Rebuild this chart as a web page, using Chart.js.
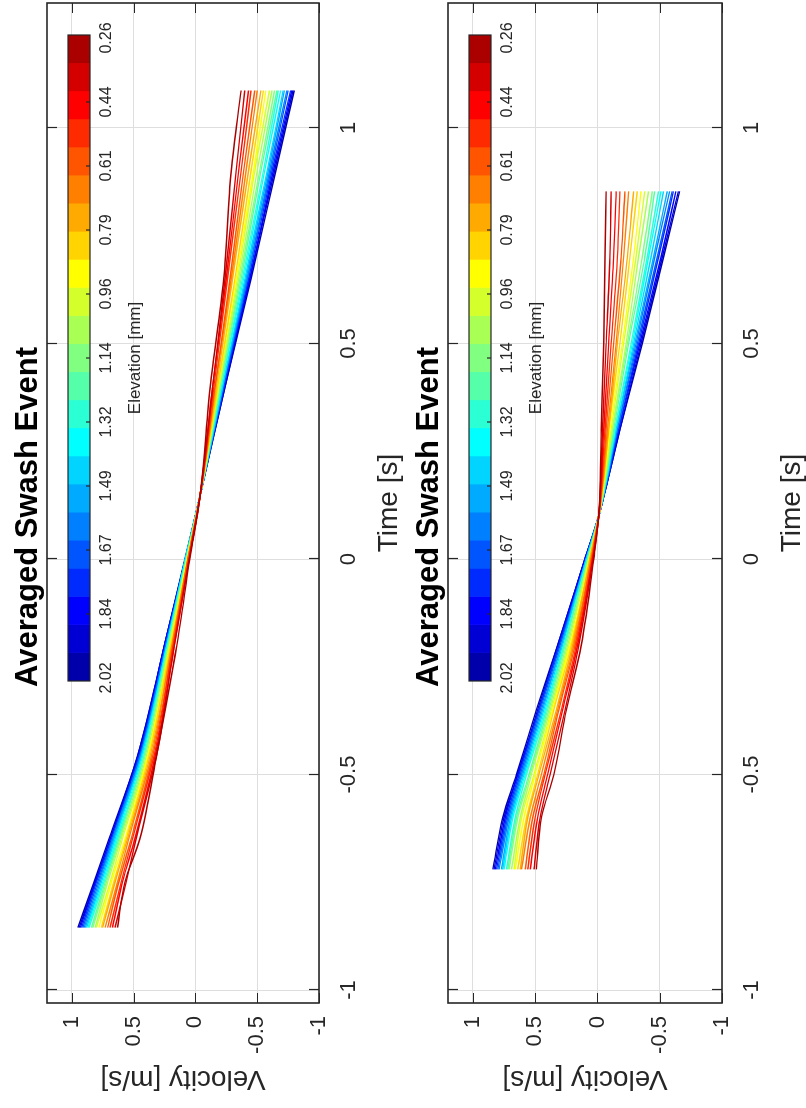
<!DOCTYPE html>
<html>
<head>
<meta charset="utf-8">
<script src="https://cdn.jsdelivr.net/npm/chart.js@4.4.1/dist/chart.umd.min.js"></script>
<style>
  html, body { margin: 0; padding: 0; background: #fff; overflow: hidden; }
  /* the figure is laid out upright, then turned a quarter turn like the source image */
  #fig { position: absolute; left: 0; top: 0; width: 1108px; height: 806px; background: #fff;
         transform-origin: 0 0; transform: translateY(1108px) rotate(-90deg); }
  .panel { position: absolute; left: 0; width: 1108px; height: 403px; }
</style>
</head>
<body>
<div id="fig">
  <div class="panel" style="top:0"><canvas id="top" width="1108" height="403"></canvas></div>
  <div class="panel" style="top:403px"><canvas id="bottom" width="1108" height="403"></canvas></div>
</div>
<script>
const titleText = "Averaged Swash Event"
const timeLabel = "Time [s]"
const velocityLabel = "Velocity [m/s]"
const colorbarLabel = "Elevation [mm]"
const colorbarTicks = ["2.02", "1.84", "1.67", "1.49", "1.32", "1.14", "0.96", "0.79", "0.61", "0.44", "0.26"]

// jet(23), low elevation (dark red) first
const lineColors = ["#AA0000", "#D40000", "#FF0000", "#FF2B00", "#FF5500", "#FF8000", "#FFAA00", "#FFD400",
  "#FFFF00", "#D4FF2B", "#AAFF55", "#80FF80", "#55FFAA", "#2BFFD4", "#00FFFF", "#00D4FF", "#00AAFF",
  "#0080FF", "#0055FF", "#002BFF", "#0000FF", "#0000D4", "#0000AA"]

// upper panel: time [s] and one velocity row per elevation level (0.26 mm ... 2.02 mm)
const time1 = [-0.855, -0.75, -0.65, -0.45, -0.2, 0, 0.15, 0.4, 0.65, 0.9, 1.087]
const velocity1 = [
  [0.63, 0.57, 0.45, 0.31, 0.15, 0.045, -0.04, -0.12, -0.23, -0.29, -0.37],
  [0.65, 0.56, 0.48, 0.31, 0.17, 0.05, -0.04, -0.14, -0.24, -0.33, -0.40],
  [0.67, 0.59, 0.49, 0.32, 0.17, 0.05, -0.04, -0.14, -0.25, -0.35, -0.43],
  [0.69, 0.60, 0.51, 0.33, 0.18, 0.05, -0.04, -0.15, -0.26, -0.37, -0.45],
  [0.71, 0.62, 0.52, 0.34, 0.18, 0.06, -0.04, -0.16, -0.28, -0.39, -0.48],
  [0.73, 0.63, 0.54, 0.35, 0.19, 0.06, -0.04, -0.16, -0.29, -0.41, -0.50],
  [0.75, 0.65, 0.55, 0.36, 0.19, 0.06, -0.04, -0.17, -0.30, -0.43, -0.53],
  [0.76, 0.66, 0.56, 0.37, 0.20, 0.06, -0.04, -0.18, -0.32, -0.45, -0.55],
  [0.78, 0.68, 0.57, 0.38, 0.20, 0.06, -0.04, -0.18, -0.33, -0.47, -0.57],
  [0.80, 0.69, 0.59, 0.38, 0.21, 0.07, -0.04, -0.19, -0.34, -0.48, -0.60],
  [0.81, 0.71, 0.60, 0.39, 0.21, 0.07, -0.04, -0.19, -0.35, -0.50, -0.62],
  [0.83, 0.72, 0.61, 0.40, 0.22, 0.07, -0.04, -0.20, -0.36, -0.52, -0.64],
  [0.84, 0.73, 0.62, 0.41, 0.22, 0.07, -0.04, -0.20, -0.37, -0.53, -0.66],
  [0.86, 0.74, 0.63, 0.41, 0.22, 0.07, -0.04, -0.21, -0.38, -0.55, -0.67],
  [0.87, 0.75, 0.64, 0.42, 0.23, 0.08, -0.04, -0.21, -0.39, -0.56, -0.69],
  [0.88, 0.76, 0.65, 0.43, 0.23, 0.08, -0.04, -0.22, -0.40, -0.58, -0.71],
  [0.89, 0.77, 0.66, 0.43, 0.23, 0.08, -0.04, -0.22, -0.41, -0.59, -0.72],
  [0.90, 0.78, 0.67, 0.44, 0.24, 0.08, -0.04, -0.22, -0.42, -0.60, -0.74],
  [0.91, 0.79, 0.67, 0.44, 0.24, 0.08, -0.04, -0.23, -0.42, -0.61, -0.75],
  [0.92, 0.80, 0.68, 0.45, 0.24, 0.08, -0.04, -0.23, -0.43, -0.62, -0.77],
  [0.93, 0.81, 0.69, 0.45, 0.25, 0.08, -0.04, -0.23, -0.44, -0.63, -0.78],
  [0.94, 0.81, 0.69, 0.46, 0.25, 0.08, -0.04, -0.24, -0.44, -0.64, -0.79],
  [0.95, 0.82, 0.70, 0.46, 0.25, 0.085, -0.04, -0.24, -0.45, -0.65, -0.80]
]

// lower panel
const time2 = [-0.72, -0.6, -0.5, -0.35, -0.2, 0, 0.1, 0.3, 0.5, 0.7, 0.853]
const velocity2 = [
  [0.49, 0.45, 0.35, 0.25, 0.13, 0.03, -0.01, -0.03, -0.05, -0.06, -0.07],
  [0.51, 0.46, 0.38, 0.26, 0.15, 0.035, -0.01, -0.04, -0.07, -0.10, -0.11],
  [0.54, 0.48, 0.40, 0.28, 0.16, 0.04, -0.01, -0.05, -0.09, -0.13, -0.15],
  [0.56, 0.50, 0.42, 0.29, 0.17, 0.04, -0.01, -0.06, -0.11, -0.16, -0.18],
  [0.58, 0.52, 0.43, 0.31, 0.18, 0.05, -0.01, -0.07, -0.13, -0.19, -0.22],
  [0.61, 0.54, 0.45, 0.32, 0.19, 0.05, -0.01, -0.08, -0.15, -0.21, -0.25],
  [0.62, 0.56, 0.47, 0.33, 0.20, 0.06, -0.01, -0.09, -0.16, -0.24, -0.29],
  [0.64, 0.57, 0.48, 0.35, 0.21, 0.06, -0.01, -0.09, -0.18, -0.26, -0.32],
  [0.66, 0.59, 0.50, 0.36, 0.22, 0.06, -0.01, -0.10, -0.20, -0.29, -0.35],
  [0.67, 0.61, 0.51, 0.37, 0.23, 0.07, -0.01, -0.11, -0.21, -0.31, -0.38],
  [0.69, 0.62, 0.53, 0.38, 0.24, 0.07, -0.01, -0.12, -0.23, -0.33, -0.41],
  [0.71, 0.64, 0.54, 0.39, 0.25, 0.07, -0.01, -0.12, -0.24, -0.36, -0.44],
  [0.72, 0.65, 0.55, 0.40, 0.26, 0.08, -0.01, -0.13, -0.25, -0.38, -0.46],
  [0.73, 0.66, 0.57, 0.41, 0.27, 0.08, -0.01, -0.14, -0.27, -0.40, -0.49],
  [0.75, 0.68, 0.58, 0.42, 0.27, 0.08, -0.01, -0.14, -0.28, -0.41, -0.51],
  [0.76, 0.69, 0.59, 0.43, 0.28, 0.09, -0.01, -0.15, -0.29, -0.43, -0.53],
  [0.77, 0.70, 0.60, 0.44, 0.29, 0.09, -0.01, -0.15, -0.30, -0.45, -0.56],
  [0.79, 0.71, 0.61, 0.45, 0.29, 0.09, -0.01, -0.16, -0.31, -0.46, -0.58],
  [0.80, 0.72, 0.62, 0.46, 0.30, 0.09, -0.01, -0.16, -0.32, -0.48, -0.60],
  [0.81, 0.73, 0.63, 0.47, 0.31, 0.09, -0.01, -0.17, -0.33, -0.49, -0.61],
  [0.82, 0.74, 0.64, 0.47, 0.31, 0.10, -0.01, -0.17, -0.34, -0.51, -0.63],
  [0.83, 0.75, 0.64, 0.48, 0.32, 0.10, -0.01, -0.18, -0.35, -0.52, -0.65],
  [0.84, 0.76, 0.65, 0.49, 0.32, 0.10, -0.01, -0.18, -0.36, -0.53, -0.66]
]

const family = "'Liberation Sans', Arial, Helvetica, sans-serif"
const ink = "#262626"
const barColors = lineColors.slice().reverse()

// box with inward ticks, title and the horizontal colorbar
const frame = {
  id: "frame",
  afterDraw(chart) {
    const { ctx, chartArea: a, scales: { x, y } } = chart
    ctx.save()
    ctx.strokeStyle = ink
    ctx.lineWidth = 1.2
    ctx.beginPath()
    x.ticks.forEach(t => {
      const px = Math.round(x.getPixelForValue(t.value)) + 0.5
      ctx.moveTo(px, a.bottom); ctx.lineTo(px, a.bottom - 10)
      ctx.moveTo(px, a.top); ctx.lineTo(px, a.top + 10)
    })
    y.ticks.forEach(t => {
      const py = Math.round(y.getPixelForValue(t.value)) + 0.5
      ctx.moveTo(a.left, py); ctx.lineTo(a.left + 10, py)
      ctx.moveTo(a.right, py); ctx.lineTo(a.right - 10, py)
    })
    ctx.stroke()
    ctx.lineWidth = 1.6
    ctx.strokeRect(a.left, a.top, a.right - a.left, a.bottom - a.top)

    ctx.fillStyle = "#000"
    ctx.font = "bold 31px " + family
    ctx.textAlign = "center"
    ctx.textBaseline = "middle"
    ctx.fillText(titleText, (a.left + a.right) / 2 - 14, a.top - 19)

    const cbL = a.right - 678, cbR = a.right - 32, cbT = a.top + 21, cbH = 22
    const w = (cbR - cbL) / barColors.length
    barColors.forEach((c, i) => {
      ctx.fillStyle = c
      ctx.fillRect(cbL + i * w, cbT, Math.min(w + 0.6, cbR - cbL - i * w), cbH)
    })
    ctx.lineWidth = 1.2
    ctx.strokeStyle = ink
    ctx.strokeRect(cbL, cbT, cbR - cbL, cbH)
    const step = (cbR - cbL - 6) / (colorbarTicks.length - 1)
    ctx.beginPath()
    colorbarTicks.forEach((lab, i) => {
      const px = cbL + 3 + i * step
      if (i > 0 && i < colorbarTicks.length - 1) { ctx.moveTo(px, cbT + cbH); ctx.lineTo(px, cbT + cbH - 4) }
    })
    ctx.stroke()
    ctx.fillStyle = ink
    ctx.font = "16px " + family
    colorbarTicks.forEach((lab, i) => ctx.fillText(lab, cbL + 3 + i * step, a.top + 60))
    ctx.font = "17px " + family
    ctx.fillText(colorbarLabel, (cbL + cbR) / 2, a.top + 88)
    ctx.restore()
  }
}

const plain = v => String(+v.toFixed(2))

function makeChart(id, time, rows, topPad) {
  return new Chart(document.getElementById(id), {
    type: "line",
    data: {
      datasets: rows.map((row, k) => ({
        data: row.map((v, i) => ({ x: time[i], y: v })),
        borderColor: lineColors[k],
        borderWidth: 1.4,
        pointRadius: 0,
        cubicInterpolationMode: "monotone"
      }))
    },
    options: {
      responsive: false,
      animation: false,
      layout: { padding: { top: topPad, right: 3, left: 0, bottom: 0 } },
      plugins: { legend: { display: false }, tooltip: { enabled: false } },
      scales: {
        x: {
          type: "linear", min: -1.03, max: 1.29,
          afterFit: s => { s.height = 84 },
          grid: { color: "#dedede", drawTicks: false },
          border: { display: false },
          ticks: { stepSize: 0.5, includeBounds: false, padding: 17, maxRotation: 0, color: ink, font: { size: 22, family }, callback: plain },
          title: { display: true, text: timeLabel, color: ink, font: { size: 28, family, lineHeight: 1 }, padding: { top: 0, bottom: 0 } }
        },
        y: {
          min: -1, max: 1.2,
          afterFit: s => { s.width = 105 },
          grid: { color: "#dedede", drawTicks: false },
          border: { display: false },
          ticks: { stepSize: 0.5, includeBounds: false, padding: 13, color: ink, font: { size: 22, family }, callback: plain },
          title: { display: true, text: velocityLabel, color: ink, font: { size: 28, family }, padding: { top: 12, bottom: 0 } }
        }
      }
    },
    plugins: [frame]
  })
}

makeChart("top", time1, velocity1, 47)
makeChart("bottom", time2, velocity2, 45)
</script>
</body>
</html>
